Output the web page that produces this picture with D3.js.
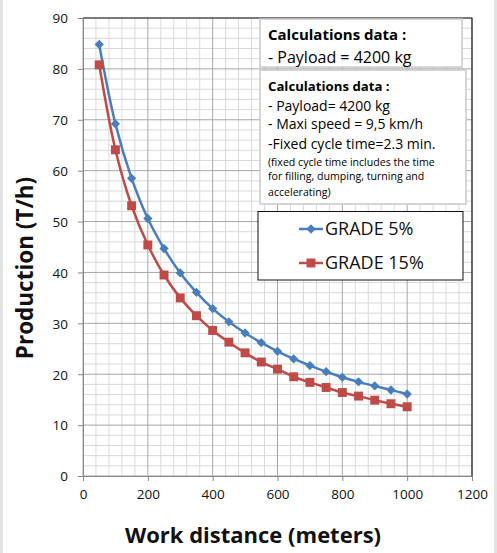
<!DOCTYPE html>
<html>
<head>
<meta charset="utf-8">
<script src="https://cdn.jsdelivr.net/npm/d3@7"></script>
<style>
  html, body { margin: 0; padding: 0; background: #fff; }
  svg { display: block; font-family: "Open Sans", sans-serif; }
</style>
</head>
<body>
<svg id="chart" width="497" height="553"></svg>
<script>
// ---- data ----
const distances = [50,100,150,200,250,300,350,400,450,500,550,600,650,700,750,800,850,900,950,1000];
const grade5  = [84.8,69.2,58.5,50.6,44.7,39.9,36.1,32.9,30.3,28.1,26.2,24.5,23.0,21.7,20.5,19.4,18.5,17.7,16.9,16.1];
const grade15 = [80.8,64.1,53.1,45.4,39.5,35.0,31.5,28.6,26.3,24.2,22.4,21.0,19.5,18.4,17.4,16.4,15.7,14.9,14.2,13.6];
const seriesNames = ["GRADE 5%", "GRADE 15%"];
const xTicks = [0,200,400,600,800,1000,1200];
const yTicks = [0,10,20,30,40,50,60,70,80,90];
const box1Lines = ["Calculations data :", "- Payload = 4200 kg"];
const box2Lines = ["Calculations data :", "- Payload= 4200 kg", "- Maxi speed = 9,5 km/h", "-Fixed cycle time=2.3 min."];
const box2Small = ["(fixed cycle time includes the time", "for filling, dumping, turning and", "accelerating)"];
const xTitle = "Work distance (meters)";
const yTitle = "Production (T/h)";

const blue = "#4a7ebb", red = "#be4b48";

const svg = d3.select("#chart");
const W = 497, H = 553;

// outer frame strips
svg.append("rect").attr("x",0).attr("y",0).attr("width",3).attr("height",H).attr("fill","#e3e3e3");
svg.append("rect").attr("x",494).attr("y",0).attr("width",3).attr("height",H).attr("fill","#e3e3e3");

const x = d3.scaleLinear().domain([0,1200]).range([83,472]);
const y = d3.scaleLinear().domain([0,90]).range([476,18]);

// minor grid
const g = svg.append("g");
d3.range(0,1201,40).forEach(v => {
  if (v % 200 === 0) return;
  g.append("line").attr("x1",x(v)).attr("x2",x(v)).attr("y1",y(0)).attr("y2",y(90))
   .attr("stroke","#d9d9d9").attr("stroke-width",1);
});
d3.range(0,91,2).forEach(v => {
  if (v % 10 === 0) return;
  g.append("line").attr("x1",x(0)).attr("x2",x(1200)).attr("y1",y(v)).attr("y2",y(v))
   .attr("stroke","#d9d9d9").attr("stroke-width",1);
});
// major grid
xTicks.forEach(v => {
  g.append("line").attr("x1",x(v)).attr("x2",x(v)).attr("y1",y(0)).attr("y2",y(90))
   .attr("stroke","#a6a6a6").attr("stroke-width",1);
});
yTicks.forEach(v => {
  g.append("line").attr("x1",x(0)).attr("x2",x(1200)).attr("y1",y(v)).attr("y2",y(v))
   .attr("stroke","#a6a6a6").attr("stroke-width",1);
});
// top/right border
svg.append("path").attr("d",`M${x(0)},${y(90)}H${x(1200)}V${y(0)}`).attr("fill","none").attr("stroke","#222").attr("stroke-width",1.2);

// axes
const xAxis = svg.append("g").attr("transform",`translate(0,${y(0)})`)
  .call(d3.axisBottom(x).tickValues(xTicks).tickFormat(d3.format("d")).tickSize(5).tickPadding(8));
const yAxis = svg.append("g").attr("transform",`translate(${x(0)},0)`)
  .call(d3.axisLeft(y).tickValues(yTicks).tickFormat(d3.format("d")).tickSize(5).tickPadding(10));
[xAxis,yAxis].forEach(a => {
  a.select(".domain").attr("stroke","#868686");
  a.selectAll(".tick line").attr("stroke","#868686");
  a.selectAll("text").attr("font-family","Open Sans").attr("font-size",13.5).attr("fill","#111");
});
yAxis.selectAll("text").attr("dy","0.36em");

// series
const line = d3.line().x((d,i)=>x(distances[i])).y(d=>y(d)).curve(d3.curveCatmullRom.alpha(0.5));
svg.append("path").datum(grade5).attr("d",line).attr("fill","none").attr("stroke",blue).attr("stroke-width",2.5);
svg.append("path").datum(grade15).attr("d",line).attr("fill","none").attr("stroke",red).attr("stroke-width",2.5);

const diamond = d3.symbol().type(d3.symbolDiamond2).size(55);
const square = d3.symbol().type(d3.symbolSquare).size(80);
svg.append("g").selectAll("path").data(grade5).join("path")
  .attr("d",diamond).attr("transform",(d,i)=>`translate(${x(distances[i])},${y(d)})`).attr("fill",blue);
svg.append("g").selectAll("path").data(grade15).join("path")
  .attr("d",square).attr("transform",(d,i)=>`translate(${x(distances[i])},${y(d)})`).attr("fill",red);

// annotation box 1
svg.append("rect").attr("x",260).attr("y",19).attr("width",202).attr("height",48)
  .attr("fill","#fff").attr("stroke","#c8c8c8").attr("stroke-width",1.5);
svg.append("text").attr("x",268).attr("y",40).attr("font-size",15).attr("font-weight","bold").text(box1Lines[0]);
svg.append("text").attr("x",268).attr("y",63).attr("font-size",16).text(box1Lines[1]);

// annotation box 2
svg.append("rect").attr("x",260).attr("y",70).attr("width",206).attr("height",134)
  .attr("fill","#fff").attr("stroke","#c8c8c8").attr("stroke-width",1.5);
const b2y = [90.7,111,129.3,148.6];
box2Lines.forEach((t,i)=>{
  svg.append("text").attr("x",268).attr("y",b2y[i]).attr("font-size", i===0?13.2:14)
    .attr("font-weight", i===0?"bold":"normal").text(t);
});
const b2s = [166.2,180,195.8];
box2Small.forEach((t,i)=>{
  svg.append("text").attr("x",268).attr("y",b2s[i]).attr("font-size",10.6).text(t);
});

// legend
svg.append("rect").attr("x",258).attr("y",211.5).attr("width",205).attr("height",68.5)
  .attr("fill","#fff").attr("stroke","#111").attr("stroke-width",1);
const legY = [229,263];
const legBase = [235,269];
[[blue,diamond],[red,square]].forEach(([c,sym],i)=>{
  svg.append("line").attr("x1",299).attr("x2",323).attr("y1",legY[i]).attr("y2",legY[i]).attr("stroke",c).attr("stroke-width",2.5);
  svg.append("path").attr("d",sym).attr("transform",`translate(311,${legY[i]})`).attr("fill",c);
  svg.append("text").attr("x",325).attr("y",legBase[i]).attr("font-size",18).attr("fill","#111").text(seriesNames[i]);
});

// axis titles
svg.append("text").attr("x",253).attr("y",543).attr("text-anchor","middle")
  .attr("font-size",22).attr("font-weight","bold").attr("fill","#111").text(xTitle);
svg.append("text").attr("transform","translate(33,268) rotate(-90)").attr("text-anchor","middle")
  .attr("font-size",22.5).attr("font-weight","bold").attr("fill","#111").text(yTitle);
</script>
</body>
</html>
